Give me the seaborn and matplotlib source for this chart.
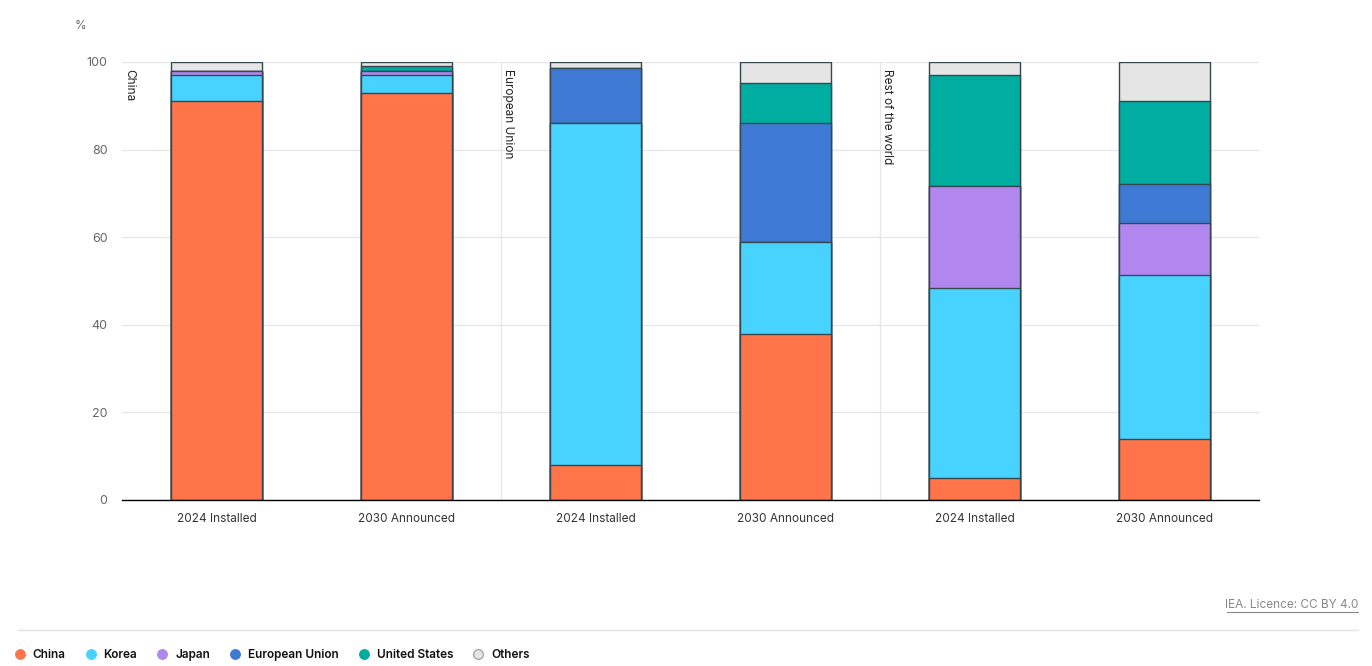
import numpy as np
import pandas as pd
import matplotlib
matplotlib.use("Agg")
import matplotlib.pyplot as plt
from matplotlib.lines import Line2D
import seaborn as sns

# bar labels, grouped by region (three panels of two bars)
regions = ["China", "European Union", "Rest of the world"]
bar_labels = ["2024 Installed", "2030 Announced"] * 3

# share of capacity by origin, %
china = [91, 93, 8, 38, 5, 14]
korea = [6, 4, 78, 20.9, 43.3, 37.3]
japan = [1, 1, 0, 0, 23.3, 11.9]
eu = [0, 0, 12.7, 27.2, 0, 8.9]
us = [0, 1, 0, 9.1, 25.4, 18.9]
others = [2, 1, 1.3, 4.8, 3, 9]

series = ["China", "Korea", "Japan", "European Union", "United States", "Others"]
colors = ["#FF7549", "#48D3FF", "#B187EF", "#3E7AD3", "#00ADA1", "#E5E5E5"]

sns.set_theme(style="white")
plt.rcParams["font.family"] = ["Inter", "DejaVu Sans"]

keys = [f"{i}" for i in range(6)]
df = pd.DataFrame({"bar": keys, "China": china, "Korea": korea, "Japan": japan,
                   "European Union": eu, "United States": us, "Others": others})

fig = plt.figure(figsize=(13.72, 6.66), dpi=100)
ax = fig.add_axes([122 / 1372, 166 / 666, 1137 / 1372, 438 / 666])

# stacked bars: draw cumulative totals from the top layer down
cum = df[series].cumsum(axis=1)
for name, col in reversed(list(zip(series, colors))):
    sns.barplot(x=df["bar"], y=cum[name], color=col, width=0.48, ax=ax,
                edgecolor="#37474F", linewidth=1, saturation=1, order=keys)

ax.set_ylim(0, 100)
ax.set_xlim(-0.5, 5.5)
ax.set_yticks(np.arange(0, 101, 20))
ax.yaxis.grid(True, color="#E6E6E6", linewidth=0.9)
ax.set_axisbelow(True)
for x in [1.5, 3.5]:
    ax.axvline(x, color="#E6E6E6", linewidth=0.9, zorder=0)

ax.set_xlabel("")
ax.set_ylabel("")
ax.set_xticks(range(6))
ax.set_xticklabels(bar_labels)
ax.set_xticks(np.arange(-0.5, 5.6, 1), minor=True)
ax.tick_params(axis="x", which="major", length=0, pad=9, labelsize=8.5, labelcolor="#333333")
ax.tick_params(axis="x", which="minor", length=6, width=1, color="black", direction="out")
ax.tick_params(axis="y", length=0, pad=10.5, labelsize=9, labelcolor="#666666")

for s in ["top", "right", "left"]:
    ax.spines[s].set_visible(False)
ax.spines["bottom"].set_color("black")
ax.spines["bottom"].set_linewidth(1)

for i, reg in enumerate(regions):
    ax.annotate(reg, xy=(-0.5 + 2 * i, 100), xytext=(1, -5), textcoords="offset points",
                rotation=-90, ha="left", va="top", fontsize=8.5, color="#222222")

fig.text(80 / 1372, (666 - 26) / 666, "%", fontsize=8.5, color="#666666", ha="center", va="center")

# footer
fig.add_artist(Line2D([18 / 1372, 1358 / 1372], [36 / 666, 36 / 666], color="#E3E3E3", linewidth=1))
fig.text(1358 / 1372, (666 - 605) / 666, "IEA. Licence: CC BY 4.0", fontsize=8.5,
         color="#888888", ha="right", va="center")
fig.add_artist(Line2D([1227 / 1372, 1358 / 1372], [(666 - 612) / 666] * 2, color="#888888", linewidth=0.8))

handles = [Line2D([], [], marker="o", linestyle="", markersize=7, markerfacecolor=c,
                  markeredgecolor="#999999" if n == "Others" else c, markeredgewidth=0.8)
           for n, c in zip(series, colors)]
leg = fig.legend(handles, series, loc="center left", bbox_to_anchor=(3 / 1372, (666 - 655) / 666),
                 ncol=6, frameon=False, handletextpad=0.6, columnspacing=1.62, handlelength=1,
                 prop={"size": 8.5, "weight": "semibold"})
for t in leg.get_texts():
    t.set_color("#111111")

fig.savefig("out.png", dpi=100)
